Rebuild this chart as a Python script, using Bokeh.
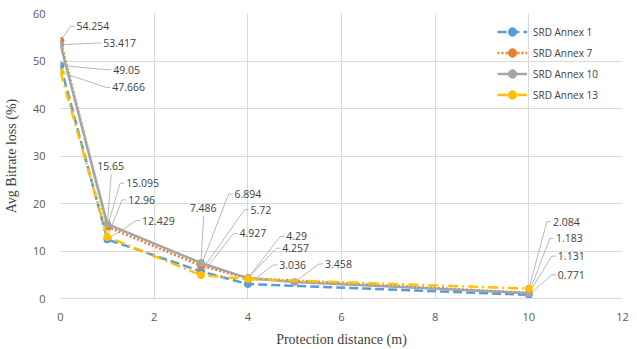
from bokeh.plotting import figure
from bokeh.models import Range1d, Legend, LegendItem, ColumnDataSource, FixedTicker
from bokeh.embed import file_html
from bokeh.resources import INLINE
from bokeh.core.properties import value

# ---------------- data ----------------
series_names = ["SRD Annex 1", "SRD Annex 7", "SRD Annex 10", "SRD Annex 13"]
x_annex1 = [0, 1, 3, 4, 10]
y_annex1 = [49.05, 12.429, 5.72, 3.036, 0.771]
x_annex7 = [0, 1, 3, 4, 10]
y_annex7 = [54.254, 15.095, 6.894, 4.257, 1.183]
x_annex10 = [0, 1, 3, 4, 5, 10]
y_annex10 = [53.417, 15.65, 7.486, 4.29, 3.458, 1.131]
x_annex13 = [0, 1, 3, 4, 10]
y_annex13 = [47.666, 12.96, 4.927, 4.1, 2.084]
show_label13 = [True, True, True, False, True]
x_ticks = [0, 2, 4, 6, 8, 10, 12]
y_ticks = [0, 10, 20, 30, 40, 50, 60]

# ---------------- layout / style ----------------
W, H = 637, 349
LEFT, RIGHT, TOP, BOTTOM = 57, 15, 13, 47
FW, FH = W - LEFT - RIGHT, H - TOP - BOTTOM
XMAX, YMAX = 12, 60
PX = FW / XMAX   # pixels per x unit
PY = FH / YMAX   # pixels per y unit

colors = ["#5B9BD5", "#ED7D31", "#A5A5A5", "#FFC000"]
dashes = ["9 4", "2 2", "solid", "10 4 2 4"]

# label anchor (left edge, vertical middle) in data units, and leader mode
label_layout = {
    0: [(1.126, 48.16, "side"), (1.742, 16.40, "side"), (4.057, 18.68, "side"),
        (4.673, 7.06, "side"), (10.62, 4.98, "side")],
    1: [(0.34, 57.3, "side"), (1.402, 24.29, "side"), (3.717, 22.0, "side"),
        (4.737, 10.59, "side"), (10.578, 12.66, "side")],
    2: [(0.913, 53.77, "side"), (0.786, 27.82, "below"), (2.761, 19.10, "below"),
        (4.822, 13.08, "side"), (5.65, 7.27, "side"), (10.62, 8.93, "side")],
    3: [(1.105, 44.43, "side"), (1.444, 20.76, "side"), (3.823, 13.70, "side"),
        None, (10.514, 16.19, "side")],
}

p = figure(width=W, height=H, output_backend="svg", toolbar_location=None,
           x_range=Range1d(0, XMAX), y_range=Range1d(0, YMAX),
           min_border_left=LEFT, min_border_right=RIGHT,
           min_border_top=TOP, min_border_bottom=BOTTOM)
p.outline_line_color = None
p.background_fill_color = "white"
p.border_fill_color = "white"

for ax in (p.xaxis, p.yaxis):
    ax.major_tick_line_color = None
    ax.minor_tick_line_color = None
    ax.major_label_text_color = "#595959"
    ax.major_label_text_font = "Open Sans"
    ax.major_label_text_font_size = "11px"
    ax.axis_label_text_font = "Liberation Serif"
    ax.axis_label_text_font_style = "normal"
    ax.axis_label_text_font_size = "14px"
    ax.axis_label_text_color = "#404040"
p.xaxis.ticker = FixedTicker(ticks=x_ticks)
p.yaxis.ticker = FixedTicker(ticks=y_ticks)
p.xaxis.axis_line_color = "#D9D9D9"
p.yaxis.axis_line_color = None
p.xaxis.major_label_standoff = 8
p.yaxis.major_label_standoff = 9
p.xaxis.axis_label = "Protection distance (m)"
p.yaxis.axis_label = "Avg Bitrate loss (%)"
p.xaxis.axis_label_standoff = 8
p.yaxis.axis_label_standoff = 11
p.xgrid.ticker = FixedTicker(ticks=x_ticks)
p.ygrid.ticker = FixedTicker(ticks=y_ticks)
p.grid.grid_line_color = "#D9D9D9"
p.grid.grid_line_width = 1

xs_all = [x_annex1, x_annex7, x_annex10, x_annex13]
ys_all = [y_annex1, y_annex7, y_annex10, y_annex13]
shows = [[True] * 5, [True] * 5, [True] * 6, show_label13]

# leader lines + label positions
lead_xs, lead_ys = [], []
lab_x, lab_y, lab_t = [], [], []
for si in range(4):
    for pi, (xv, yv) in enumerate(zip(xs_all[si], ys_all[si])):
        lay = label_layout[si][pi]
        if lay is None or not shows[si][pi]:
            continue
        lx, ly, mode = lay
        txt = f"{yv:g}"
        if mode == "side":
            lead_xs.append([xv, lx - 6 / PX, lx - 2 / PX])
            lead_ys.append([yv, ly, ly])
        else:
            cx = lx + len(txt) * 5.6 / 2 / PX
            lead_xs.append([xv, cx])
            lead_ys.append([yv, ly - 8 / PY])
        lab_x.append(lx)
        lab_y.append(ly)
        lab_t.append(txt)

p.multi_line(xs=lead_xs, ys=lead_ys, line_color="#A6A6A6", line_width=0.8)

items = []
for si in range(4):
    src = ColumnDataSource(dict(x=xs_all[si], y=ys_all[si]))
    r1 = p.line("x", "y", source=src, line_color=colors[si], line_width=2.5,
                line_dash=dashes[si])
    r2 = p.scatter("x", "y", source=src, size=7, fill_color=colors[si],
                   line_color=colors[si])
    items.append(LegendItem(label=series_names[si], renderers=[r1, r2]))

p.text(x=lab_x, y=lab_y, text=lab_t, text_font=value("Open Sans"),
       text_font_size="10.5px", text_color="#404040", text_baseline="middle",
       text_align="left")

legend = Legend(items=items, location=(437, FH - 12 - 84))
legend.background_fill_alpha = 0
legend.border_line_alpha = 0
legend.padding = 0
legend.margin = 0
legend.spacing = 0
legend.glyph_width = 30
legend.glyph_height = 21
legend.label_height = 21
legend.label_standoff = 6
legend.label_text_font = "Open Sans"
legend.label_text_font_size = "10px"
legend.label_text_color = "#404040"
p.add_layout(legend, "center")

open("out.html", "w").write(file_html(p, INLINE))
